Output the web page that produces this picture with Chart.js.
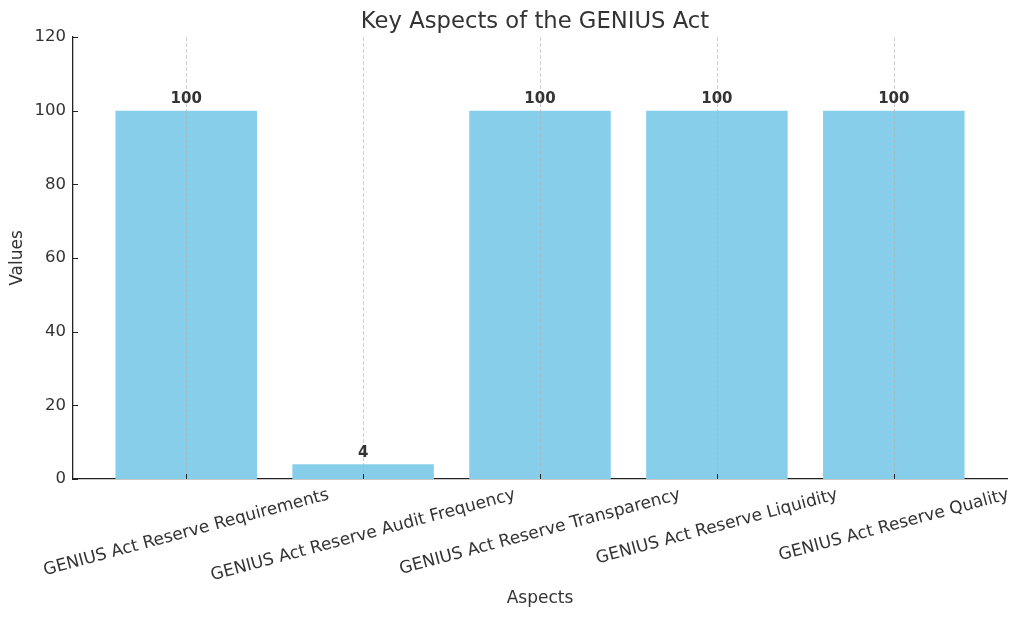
<!DOCTYPE html>
<html>
<head>
<meta charset="utf-8">
<script src="https://cdn.jsdelivr.net/npm/chart.js@4.4.0/dist/chart.umd.min.js"></script>
<style>
html,body{margin:0;padding:0;background:#fff;}
#wrap{width:1024px;height:619px;position:relative;}
</style>
</head>
<body>
<div id="wrap"><canvas id="c"></canvas></div>
<script>
const chartTitle = "Key Aspects of the GENIUS Act";
const xAxisTitle = "Aspects";
const yAxisTitle = "Values";
const categories = [
  "GENIUS Act Reserve Requirements",
  "GENIUS Act Reserve Audit Frequency",
  "GENIUS Act Reserve Transparency",
  "GENIUS Act Reserve Liquidity",
  "GENIUS Act Reserve Quality"
];
const values = [100, 4, 100, 100, 100];
const yTickValues = [0, 20, 40, 60, 80, 100, 120];

const FONT = "'DejaVu Sans', 'Liberation Sans', sans-serif";
const TEXT = '#333333';
const AXIS = '#222222';

const overlay = {
  id: 'overlay',
  afterDatasetsDraw(chart) {
    const ctx = chart.ctx, x = chart.scales.x, y = chart.scales.y, a = chart.chartArea;
    ctx.save();
    // vertical dashed grid lines on top of bars
    ctx.strokeStyle = 'rgba(176,176,176,0.75)';
    ctx.lineWidth = 0.8;
    ctx.setLineDash([4, 2]);
    categories.forEach((c, i) => {
      const px = Math.round(x.getPixelForValue(i)) + 0.5;
      ctx.beginPath(); ctx.moveTo(px, a.top); ctx.lineTo(px, a.bottom); ctx.stroke();
    });
    ctx.setLineDash([]);
    // inward tick marks
    ctx.strokeStyle = AXIS; ctx.lineWidth = 1;
    categories.forEach((c, i) => {
      const px = Math.round(x.getPixelForValue(i)) + 0.5;
      ctx.beginPath(); ctx.moveTo(px, a.bottom); ctx.lineTo(px, a.bottom - 5); ctx.stroke();
    });
    yTickValues.forEach(v => {
      const py = Math.round(y.getPixelForValue(v)) + 0.5;
      ctx.beginPath(); ctx.moveTo(a.left, py); ctx.lineTo(a.left + 5, py); ctx.stroke();
    });
    // value labels
    ctx.fillStyle = TEXT;
    ctx.font = "bold 15px " + FONT;
    ctx.textAlign = 'center';
    ctx.textBaseline = 'alphabetic';
    values.forEach((v, i) => {
      ctx.fillText(String(v), x.getPixelForValue(i), y.getPixelForValue(v + 1) - 3.6);
    });
    ctx.restore();
  },
  afterDraw(chart) {
    const ctx = chart.ctx, x = chart.scales.x, a = chart.chartArea;
    ctx.save();
    ctx.fillStyle = TEXT;
    // rotated x labels, centered on tick
    const fs = 17;
    ctx.font = fs + "px " + FONT;
    const ang = 15 * Math.PI / 180;
    categories.forEach((c, i) => {
      const L = ctx.measureText(c).width;
      const h = fs * 1.17;
      const H = L * Math.sin(ang) + h * Math.cos(ang);
      const cx = x.getPixelForValue(i);
      const cy = a.bottom + 6 + H / 2;
      ctx.save();
      ctx.translate(cx, cy);
      ctx.rotate(-ang);
      ctx.textAlign = 'center';
      ctx.textBaseline = 'middle';
      ctx.fillText(c, 0, 0);
      ctx.restore();
    });
    // axis titles
    ctx.font = "17px " + FONT;
    ctx.textAlign = 'center';
    ctx.textBaseline = 'middle';
    ctx.fillText(xAxisTitle, (a.left + a.right) / 2, 599);
    ctx.save();
    ctx.translate(18, (a.top + a.bottom) / 2);
    ctx.rotate(-Math.PI / 2);
    ctx.fillText(yAxisTitle, 0, 0);
    ctx.restore();
    // title
    ctx.font = "22.7px " + FONT;
    ctx.fillText(chartTitle, (a.left + a.right) / 2 - 5, 22);
    ctx.restore();
  }
};

new Chart(document.getElementById('c'), {
  type: 'bar',
  data: {
    datasets: [{
      data: values.map((v, i) => ({ x: i, y: v })),
      backgroundColor: '#87CEEB',
      borderWidth: 0,
      barPercentage: 0.8,
      categoryPercentage: 1.0
    }]
  },
  options: {
    responsive: true,
    maintainAspectRatio: false,
    animation: false,
    devicePixelRatio: 1,
    layout: { padding: { left: 0, right: 17, top: 37, bottom: 0 } },
    plugins: { legend: { display: false }, tooltip: { enabled: false }, title: { display: false } },
    scales: {
      x: {
        type: 'linear',
        min: -0.64,
        max: 4.64,
        offset: false,
        z: 1,
        afterBuildTicks(scale) { scale.ticks = categories.map((c, i) => ({ value: i })); },
        afterFit(scale) { scale.height = 140; },
        ticks: { display: false },
        grid: { display: false, offset: false, drawTicks: false, tickLength: 0 },
        border: { display: true, color: AXIS, width: 1.3 }
      },
      y: {
        min: 0,
        max: 120,
        z: 1,
        afterBuildTicks(scale) { scale.ticks = yTickValues.map(v => ({ value: v })); },
        afterFit(scale) { scale.width = 73; },
        ticks: { color: TEXT, font: { family: FONT, size: 16.5 }, padding: 7 },
        grid: { display: false, drawTicks: false, tickLength: 0 },
        border: { display: true, color: AXIS, width: 1.3 }
      }
    }
  },
  plugins: [overlay]
});
</script>
</body>
</html>
